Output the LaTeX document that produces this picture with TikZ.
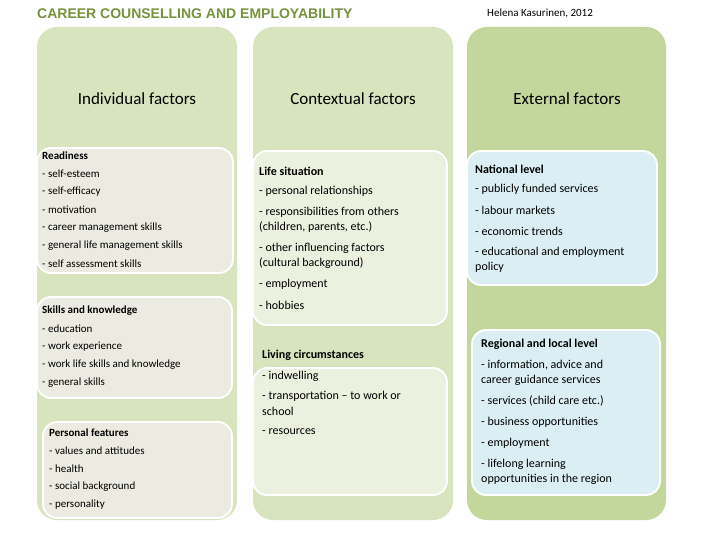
\documentclass[tikz,border=0pt]{standalone}
\usepackage{fontspec}
\setmainfont{Carlito}
\newfontfamily\titlefont{Liberation Sans}
\definecolor{colA}{HTML}{D7E4BD}
\definecolor{colC}{HTML}{C3D69B}
\definecolor{boxA}{HTML}{ECEBE1}
\definecolor{boxB}{HTML}{EBF1DE}
\definecolor{boxC}{HTML}{DBEEF4}
\definecolor{titlec}{HTML}{76923C}
\begin{document}
\begin{tikzpicture}[x=1pt,y=-1pt,
  col/.style={rounded corners=20pt},
  ibox/.style={draw=white,line width=1.8pt,rounded corners=14pt},
  ln/.style={anchor=west,inner sep=0pt,font=\fontsize{11}{13}\selectfont},
  lnb/.style={anchor=west,inner sep=0pt,font=\fontsize{12}{14}\selectfont},
  hd/.style={inner sep=0pt,font=\fontsize{17}{20}\selectfont}]
\useasboundingbox (0,0) rectangle (720,540);
\fill[white] (0,0) rectangle (720,540);
\node[anchor=west,inner sep=0pt,text=titlec,font=\titlefont\bfseries\fontsize{14}{16}\selectfont] (title) at (37,14) {CAREER COUNSELLING AND EMPLOYABILITY};
\node[anchor=west,inner sep=0pt,font=\fontsize{11}{13}\selectfont] (author) at (487,13) {Helena Kasurinen, 2012};
% columns
\fill[colA,col] (37,27) rectangle (237,520);
\fill[colA,col] (253,27) rectangle (453,520);
\fill[colC,col] (467,27) rectangle (666,520);
\node[hd] (h1) at (137,99) {Individual factors};
\node[hd] (h2) at (353,99) {Contextual factors};
\node[hd] (h3) at (567,99) {External factors};
% col1 boxes
\draw[ibox,fill=boxA] (37,148) rectangle (233,273);
\draw[ibox,fill=boxA] (37,297) rectangle (232,398);
\draw[ibox,fill=boxA] (43,422) rectangle (232,518);
\node[ln] (r0) at (42,156) {\textbf{Readiness}};
\node[ln] (r1) at (42,174) {- self-esteem};
\node[ln] (r2) at (42,192) {- self-efficacy};
\node[ln] (r3) at (42,210) {- motivation};
\node[ln] (r4) at (42,228) {- career management skills};
\node[ln] (r5) at (42,246) {- general life management skills};
\node[ln] (r6) at (42,264) {- self assessment skills};
\node[ln] (s0) at (42,311) {\textbf{Skills and knowledge}};
\node[ln] (s1) at (42,329) {- education};
\node[ln] (s2) at (42,347) {- work experience};
\node[ln] (s3) at (42,365) {- work life skills and knowledge};
\node[ln] (s4) at (42,383) {- general skills};
\node[ln] (p0) at (49,433) {\textbf{Personal features}};
\node[ln] (p1) at (49,451) {- values and attitudes};
\node[ln] (p2) at (49,469) {- health};
\node[ln] (p3) at (49,487) {- social background};
\node[ln] (p4) at (49,505) {- personality};
% col2
\draw[ibox,fill=boxB] (253,151) rectangle (447,325);
\draw[ibox,fill=boxB] (253,368) rectangle (447,495);
\node[lnb] (l0) at (259,171) {\textbf{Life situation}};
\node[lnb] (l1) at (259,191) {- personal relationships};
\node[lnb] (l2) at (259,212) {- responsibilities from others};
\node[lnb] (l2b) at (259,227) {(children, parents, etc.)};
\node[lnb] (l3) at (259,248) {- other influencing factors};
\node[lnb] (l3b) at (259,263) {(cultural background)};
\node[lnb] (l4) at (259,284) {- employment};
\node[lnb] (l5) at (259,305) {- hobbies};
\node[lnb] (v0) at (262,355) {\textbf{Living circumstances}};
\node[lnb] (v1) at (262,376) {- indwelling};
\node[lnb] (v2) at (262,396) {- transportation – to work or};
\node[lnb] (v2b) at (262,411) {school};
\node[lnb] (v3) at (262,432) {- resources};
% col3
\draw[ibox,fill=boxC] (467,151) rectangle (657,285);
\draw[ibox,fill=boxC] (472,330) rectangle (660,495);
\node[lnb] (n0) at (475,169) {\textbf{National level}};
\node[lnb] (n1) at (475,189) {- publicly funded services};
\node[lnb] (n2) at (475,210) {- labour markets};
\node[lnb] (n3) at (475,231) {- economic trends};
\node[lnb] (n4) at (475,252) {- educational and employment};
\node[lnb] (n4b) at (475,267) {policy};
\node[lnb] (g0) at (481,344) {\textbf{Regional and local level}};
\node[lnb] (g1) at (481,365) {- information, advice and};
\node[lnb] (g1b) at (481,380) {career guidance services};
\node[lnb] (g2) at (481,401) {- services (child care etc.)};
\node[lnb] (g3) at (481,422) {- business opportunities};
\node[lnb] (g4) at (481,443) {- employment};
\node[lnb] (g5) at (481,464) {- lifelong learning};
\node[lnb] (g5b) at (481,479) {opportunities in the region};
\end{tikzpicture}
\end{document}
